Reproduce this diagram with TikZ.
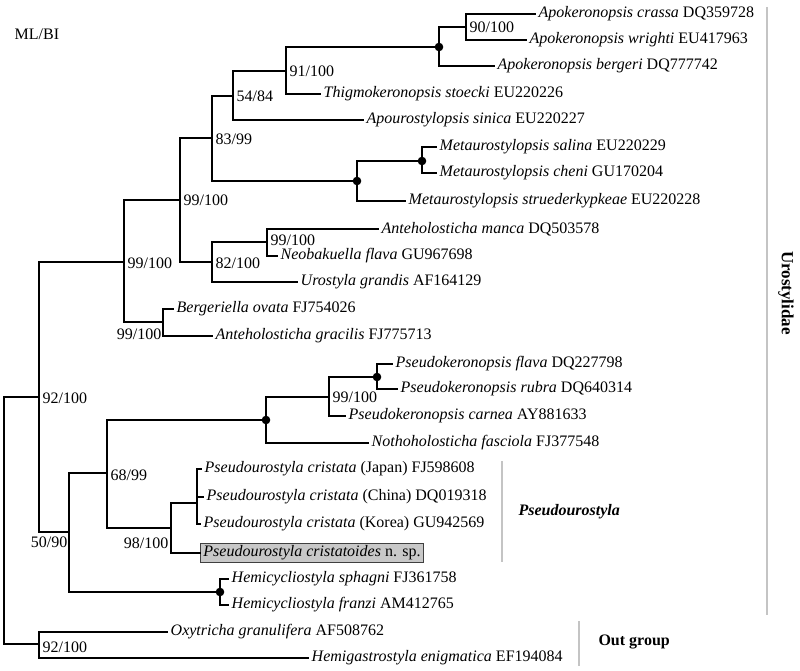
\documentclass[tikz,border=0pt]{standalone}
\usepackage{fontspec}
\setmainfont{Liberation Serif}
\newcommand{\fsz}{\fontsize{16}{19}\selectfont}
\definecolor{bargray}{HTML}{C4C4C4}
\definecolor{boxgray}{HTML}{C8C8C8}
\begin{document}
\begin{tikzpicture}[x=1pt,y=-1pt,
  br/.style={line width=1.4pt,line cap=rect},
  leaf/.style={anchor=west,inner xsep=3.5pt,inner ysep=1pt,font=\fsz},
  bval/.style={anchor=west,inner sep=0.5pt,font=\fsz},
  bvall/.style={anchor=east,inner sep=0.5pt,font=\fsz},
  dot/.style={fill=black},
  bar/.style={draw=bargray,line width=2.6pt}]
\useasboundingbox (0,0) rectangle (800,671);
% ---------- leaves ----------
\node[leaf] (crassa) at (535,14) {\textit{Apokeronopsis crassa} DQ359728};
\node[leaf] (wrighti) at (526,40) {\textit{Apokeronopsis wrighti} EU417963};
\node[leaf] (bergeri) at (494,66) {\textit{Apokeronopsis bergeri} DQ777742};
\node[leaf] (stoecki) at (320,94) {\textit{Thigmokeronopsis stoecki} EU220226};
\node[leaf] (sinica) at (363,120) {\textit{Apourostylopsis sinica} EU220227};
\node[leaf] (salina) at (436,147) {\textit{Metaurostylopsis salina} EU220229};
\node[leaf] (cheni) at (436,173) {\textit{Metaurostylopsis cheni} GU170204};
\node[leaf] (strued) at (405,201) {\textit{Metaurostylopsis struederkypkeae} EU220228};
\node[leaf] (manca) at (378,229) {\textit{Anteholosticha manca} DQ503578};
\node[leaf] (neobak) at (277,256) {\textit{Neobakuella flava} GU967698};
\node[leaf] (urostyla) at (297,282) {\textit{Urostyla grandis} AF164129};
\node[leaf] (bergeriella) at (173,309) {\textit{Bergeriella ovata} FJ754026};
\node[leaf] (gracilis) at (212,336) {\textit{Anteholosticha gracilis} FJ775713};
\node[leaf] (pflava) at (392,364) {\textit{Pseudokeronopsis flava} DQ227798};
\node[leaf] (prubra) at (397,389) {\textit{Pseudokeronopsis rubra} DQ640314};
\node[leaf] (pcarnea) at (345,416) {\textit{Pseudokeronopsis carnea} AY881633};
\node[leaf] (notho) at (368,443) {\textit{Nothoholosticha fasciola} FJ377548};
\node[leaf] (japan) at (201,469) {\textit{Pseudourostyla cristata} (Japan) FJ598608};
\node[leaf] (china) at (203,497) {\textit{Pseudourostyla cristata} (China) DQ019318};
\node[leaf] (korea) at (200,524) {\textit{Pseudourostyla cristata} (Korea) GU942569};
\node[anchor=west,draw=black!75,line width=0.8pt,fill=boxgray,inner xsep=3pt,inner ysep=1.5pt,
      minimum width=223pt,minimum height=19pt,align=left,font=\fsz] (cristatoides) at (200,553)
      {\textit{Pseudourostyla cristatoides} n. sp.};
\node[leaf] (sphagni) at (228,579) {\textit{Hemicycliostyla sphagni} FJ361758};
\node[leaf] (franzi) at (228,605) {\textit{Hemicycliostyla franzi} AM412765};
\node[leaf] (oxytricha) at (167,632) {\textit{Oxytricha granulifera} AF508762};
\node[leaf] (hemigastro) at (308,658) {\textit{Hemigastrostyla enigmatica} EF194084};
% ---------- internal nodes ----------
\coordinate (c1) at (466,27);
\coordinate (c2) at (439,47);
\coordinate (c3) at (286,71);
\coordinate (c4) at (233,96);
\coordinate (c5) at (212,138);
\coordinate (c6) at (422,161);
\coordinate (c7) at (357,181);
\coordinate (nA) at (180,200);
\coordinate (c8) at (267,242);
\coordinate (c9) at (212,262);
\coordinate (nB) at (124,262);
\coordinate (c10) at (163,322);
\coordinate (r92) at (39,397);
\coordinate (c11) at (377,377);
\coordinate (c12) at (329,397);
\coordinate (c13) at (266,420);
\coordinate (c17) at (107,473);
\coordinate (c15) at (171,528);
\coordinate (c14) at (197,503);
\coordinate (c19) at (69,532);
\coordinate (c16) at (220,592);
\coordinate (c18) at (39,644);
\coordinate (root) at (4,520);
% ---------- branches ----------
\begin{scope}[br]
\draw (c1) |- (crassa.west);
\draw (c1) |- (wrighti.west);
\draw (c2) |- (c1);
\draw (c2) |- (bergeri.west);
\draw (c3) |- (c2);
\draw (c3) |- (stoecki.west);
\draw (c4) |- (c3);
\draw (c4) |- (sinica.west);
\draw (c5) |- (c4);
\draw (c5) |- (c7);
\draw (c6) |- (salina.west);
\draw (c6) |- (cheni.west);
\draw (c7) |- (c6);
\draw (c7) |- (strued.west);
\draw (nA) |- (c5);
\draw (nA) |- (c9);
\draw (c8) |- (manca.west);
\draw (c8) |- (neobak.west);
\draw (c9) |- (c8);
\draw (c9) |- (urostyla.west);
\draw (nB) |- (nA);
\draw (nB) |- (c10);
\draw (c10) |- (bergeriella.west);
\draw (c10) |- (gracilis.west);
\draw (r92) |- (nB);
\draw (r92) |- (c19);
\draw (c11) |- (pflava.west);
\draw (c11) |- (prubra.west);
\draw (c12) |- (c11);
\draw (c12) |- (pcarnea.west);
\draw (c13) |- (c12);
\draw (c13) |- (notho.west);
\draw (c17) |- (c13);
\draw (c17) |- (c15);
\draw (c14) |- (japan.west);
\draw (c14) |- (china.west);
\draw (c14) |- (korea.west);
\draw (c15) |- (c14);
\draw (c15) |- (cristatoides.west);
\draw (c19) |- (c17);
\draw (c19) |- (c16);
\draw (c16) |- (sphagni.west);
\draw (c16) |- (franzi.west);
\draw (c18) |- (oxytricha.west);
\draw (c18) |- (hemigastro.west);
\draw (root) |- (r92);
\draw (root) |- (c18);
\end{scope}
% ---------- dots ----------
\fill[dot] (c2) circle (4.3pt);
\fill[dot] (c6) circle (4.3pt);
\fill[dot] (c7) circle (4.3pt);
\fill[dot] (c11) circle (4.3pt);
\fill[dot] (c13) circle (4.3pt);
\fill[dot] (c16) circle (4.3pt);
% ---------- support values ----------
\node[bval] (l1) at (469,27) {90/100};
\node[bval] (l3) at (289,71) {91/100};
\node[bval] (l4) at (236,96) {54/84};
\node[bval] (l5) at (215,139) {83/99};
\node[bval] (lA) at (183,200) {99/100};
\node[bval] (l8) at (270,240) {99/100};
\node[bval] (l9) at (215,263) {82/100};
\node[bval] (lB) at (127,263) {99/100};
\node[bvall] (l10) at (162,334) {99/100};
\node[bval] (l92) at (42,398) {92/100};
\node[bval] (l12) at (332,397) {99/100};
\node[bval] (l17) at (110,475) {68/99};
\node[bvall] (l15) at (169,543) {98/100};
\node[bvall] (l19) at (68,542) {50/90};
\node[bval] (l18) at (42,647) {92/100};
\node[bval] (mlbi) at (14,34) {ML/BI};
% ---------- clade bars ----------
\coordinate (uA) at (767,7);
\coordinate (uB) at (767,615);
\draw[bar] (uA) -- (uB);
\node[rotate=-90,font=\fontsize{17}{20}\selectfont\bfseries] (uro) at (786,293) {Urostylidae};
\coordinate (pA) at (502,461);
\coordinate (pB) at (502,562);
\draw[bar] (pA) -- (pB);
\node[anchor=west,font=\fsz\bfseries\itshape] (pseudo) at (515,512) {Pseudourostyla};
\coordinate (oA) at (579,621);
\coordinate (oB) at (579,666);
\draw[bar] (oA) -- (oB);
\node[anchor=west,font=\fsz\bfseries] (outg) at (595,642) {Out group};
\end{tikzpicture}
\end{document}
